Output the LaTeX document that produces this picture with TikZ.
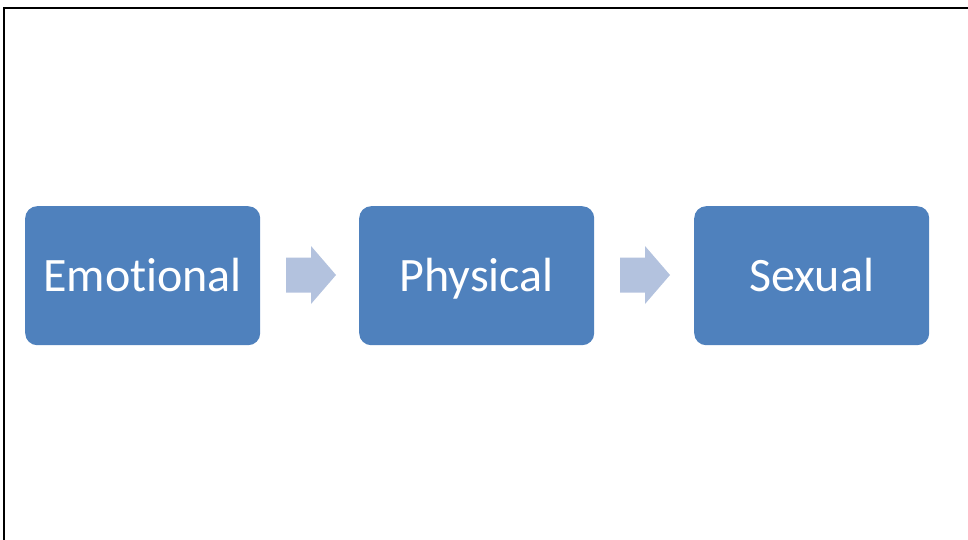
\documentclass[tikz,border=0pt]{standalone}
\usepackage{fontspec}
\setmainfont[Ligatures=NoCommon]{Carlito}
\definecolor{boxblue}{HTML}{4F81BD}
\definecolor{arrowblue}{HTML}{B3C2DE}
\begin{document}
\begin{tikzpicture}[x=1pt,y=-1pt,
  stage/.style={fill=boxblue, draw=none, rounded corners=12pt, minimum width=235pt, minimum height=139pt, inner sep=0pt, text height=40pt, text depth=9pt, text=white, font=\fontsize{48}{56}\selectfont, anchor=north west},
  flowarrow/.style={fill=arrowblue, draw=none}]
\useasboundingbox (0,0) rectangle (968,540);
\draw[line width=2pt] (4,541) -- (4,8) -- (969,8);
\node[stage] (emo) at (25,206) {Emotional};
\node[stage] (phy) at (359,206) {Physical};
\node[stage] (sex) at (694,206) {Sexual};
\coordinate (a1) at (286,275);
\coordinate (a2) at (620,275);
\fill[flowarrow] (a1) ++(0,-17.5) -- ++(25,0) -- ++(0,-11.5) -- ++(25,29) -- ++(-25,29) -- ++(0,-11.5) -- ++(-25,0) -- cycle;
\fill[flowarrow] (a2) ++(0,-17.5) -- ++(25,0) -- ++(0,-11.5) -- ++(25,29) -- ++(-25,29) -- ++(0,-11.5) -- ++(-25,0) -- cycle;
\end{tikzpicture}
\end{document}
